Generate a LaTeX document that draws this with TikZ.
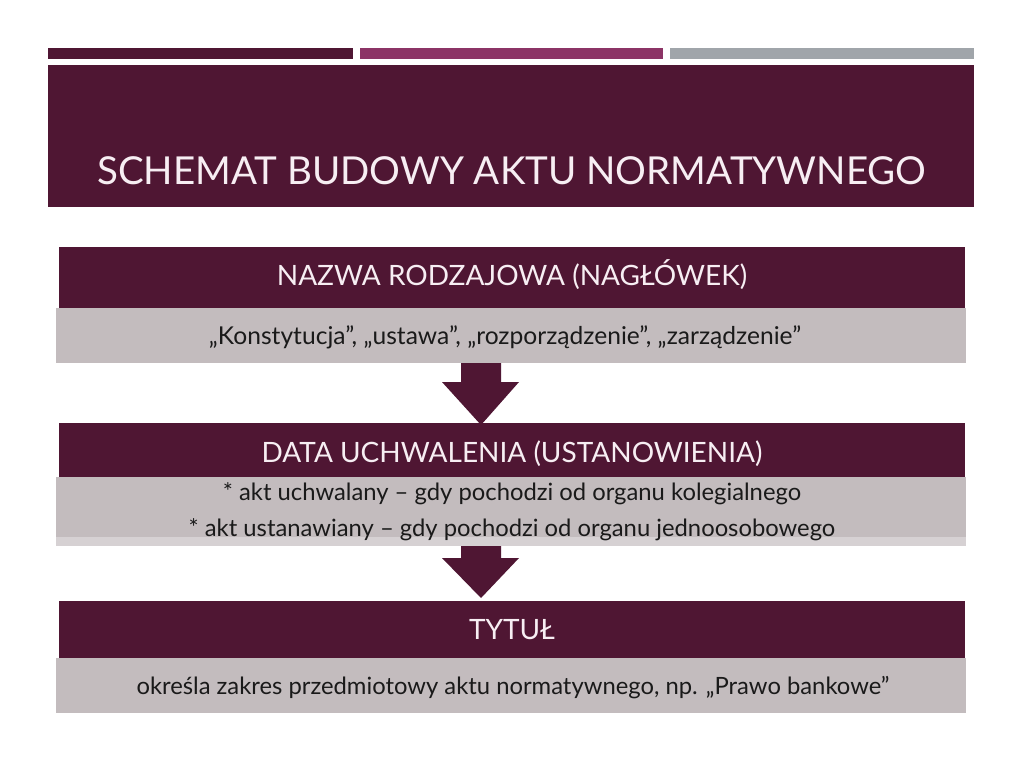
\documentclass[tikz,border=0pt]{standalone}
\usepackage{fontspec}
\setmainfont{Lato}
\usetikzlibrary{calc}
\definecolor{maroon}{HTML}{4F1633}
\definecolor{pinkbar}{HTML}{8C3466}
\definecolor{graybar}{HTML}{A0A5AA}
\definecolor{boxgray}{HTML}{C3BCBE}
\definecolor{lightgray}{HTML}{D6D1D3}
\definecolor{headtext}{HTML}{F7EEF3}
\definecolor{bodytext}{HTML}{1A1A1A}
\begin{document}
\begin{tikzpicture}[x=1pt,y=-1pt,
  bar/.style={fill=#1,draw=none,inner sep=0pt,anchor=north west},
  headbox/.style={fill=maroon,draw=none,inner sep=0pt,anchor=north west,minimum width=906pt},
  bodybox/.style={fill=boxgray,draw=none,inner sep=0pt,anchor=north west,minimum width=910pt},
  headlabel/.style={anchor=base,inner sep=0pt,text=headtext,font=\fontsize{28}{32}\selectfont},
  bodylabel/.style={anchor=base,inner sep=0pt,text=bodytext,font=\fontsize{23.8}{28}\selectfont},
  flowarrow/.style={fill=maroon,draw=none}
]
\useasboundingbox (0,0) rectangle (1024,767);
\fill[white] (0,0) rectangle (1024,767);
% top bars
\node[bar=maroon,minimum width=305pt,minimum height=11pt] (bar1) at (48,48) {};
\node[bar=pinkbar,minimum width=303pt,minimum height=11pt] (bar2) at (360,48) {};
\node[bar=graybar,minimum width=304pt,minimum height=11pt] (bar3) at (670,48) {};
% title band
\node[bar=maroon,minimum width=926pt,minimum height=142pt] (band) at (48,65) {};
\node[anchor=base west,inner sep=0pt,text=headtext,font=\fontsize{38.5}{44}\selectfont] (title) at (97,185) {SCHEMAT BUDOWY AKTU NORMATYWNEGO};
% box 1
\node[bodybox,minimum height=55pt] (b1) at (56,308) {};
\node[headbox,minimum height=61pt] (h1) at (59,247) {};
\node[headlabel] (t1) at (512,285) {NAZWA RODZAJOWA (NAGŁÓWEK)};
\node[bodylabel,font=\fontsize{24.6}{28}\selectfont] (d1) at (505,344) {„Konstytucja”, „ustawa”, „rozporządzenie”, „zarządzenie”};
% box 2
\node[bar=lightgray,minimum width=910pt,minimum height=69pt] (b2base) at (56,477) {};
\node[bodybox,minimum height=60pt] (b2) at (56,477) {};
\node[headbox,minimum height=54pt] (h2) at (59,423) {};
\node[headlabel] (t2) at (512,462) {DATA UCHWALENIA (USTANOWIENIA)};
\node[bodylabel] (d2a) at (512,500) {* akt uchwalany – gdy pochodzi od organu kolegialnego};
\node[bodylabel] (d2b) at (512,536) {* akt ustanawiany – gdy pochodzi od organu jednoosobowego};
% box 3
\node[bodybox,minimum height=55pt] (b3) at (56,658) {};
\node[headbox,minimum height=57pt] (h3) at (59,601) {};
\node[headlabel] (t3) at (512,639) {TYTUŁ};
\node[bodylabel] (d3) at (513,694) {określa zakres przedmiotowy aktu normatywnego, np. „Prawo bankowe”};
% arrows
\fill[flowarrow] (461,363) -- (501,363) -- (501,382) -- (519,382) -- (481,425) -- (442,382) -- (461,382) -- cycle;
\fill[flowarrow] (461,546) -- (501,546) -- (501,558) -- (519,558) -- (481,598) -- (442,558) -- (461,558) -- cycle;
\end{tikzpicture}
\end{document}
